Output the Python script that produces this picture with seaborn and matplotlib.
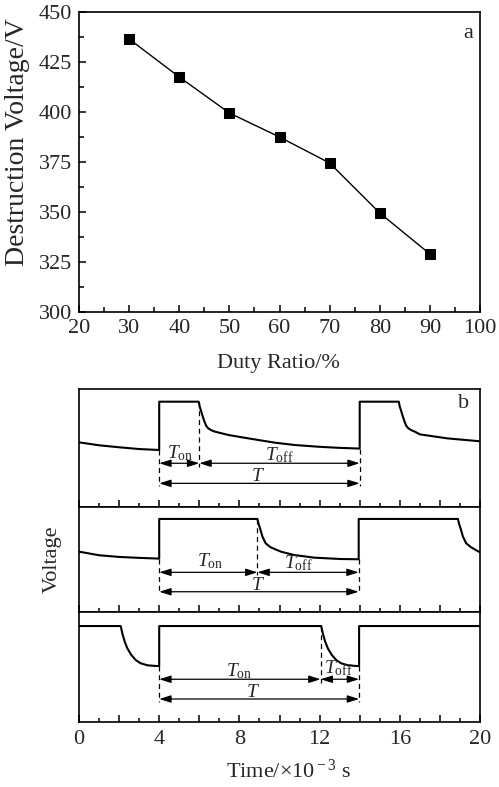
import numpy as np
import pandas as pd
import matplotlib
matplotlib.use("Agg")
import matplotlib.pyplot as plt
from matplotlib.ticker import MultipleLocator, FuncFormatter
import seaborn as sns

# panel a: destruction voltage vs duty ratio
duty = [30, 40, 50, 60, 70, 80, 90]
destruct_v = [436.5, 417.5, 399.5, 387.5, 374.5, 349.5, 329]

# panel b: schematic waveforms (voltage in % of each strip height)
wave1_t = [0, 1, 2, 3, 4, 4, 5.97, 6.02, 6.1, 6.19, 6.27, 6.35, 6.44, 6.6, 6.78,
           7.44, 8.44, 9.78, 10.78, 12, 13, 14, 14, 15.95, 16.0, 16.08, 16.17,
           16.25, 16.33, 16.42, 16.58, 16.75, 17.0, 18.36, 20]
wave1_v = [54.6, 52.1, 50.4, 48.9, 48.1, 89.2, 89.2, 84.9, 80.7, 75.6, 71.7, 68.5,
           66.6, 64.9, 63.7, 60.9, 58.0, 54.3, 52.3, 50.8, 49.9, 49.3, 89.2, 89.2,
           84.9, 80.7, 75.6, 71.7, 68.5, 66.6, 64.9, 63.7, 61.4, 58.0, 55.5]

wave2_t = [0, 1, 2, 3, 4, 4, 8.9, 8.95, 9.03, 9.15, 9.31, 9.56, 10.07, 10.73, 11.74,
           13.08, 13.95, 13.95, 18.9, 18.95, 19.03, 19.15, 19.31, 19.56, 20]
wave2_v = [57.2, 53.8, 52.2, 51.3, 50.6, 88.2, 88.2, 84.0, 79.3, 71.4, 65.1, 61.3,
           57.2, 54.0, 51.5, 50.2, 50.0, 88.2, 88.2, 84.0, 79.3, 71.4, 65.1, 61.3, 56.5]

wave3_t = [0, 2.08, 2.16, 2.28, 2.41, 2.61, 2.83, 3.08, 3.42, 3.83, 4.0, 4.0,
           12.08, 12.16, 12.28, 12.41, 12.61, 12.83, 13.08, 13.42, 13.83, 13.97,
           13.97, 20]
wave3_v = [87.2, 87.2, 80.6, 72.9, 66.9, 60.8, 56.2, 53.2, 51.4, 50.8, 50.8, 87.2,
           87.2, 80.6, 72.9, 66.9, 60.8, 56.2, 53.2, 51.4, 50.8, 50.8, 87.2, 87.2]

# period marks for each strip: start, end of T_on, end of period
t_start = [4, 4, 4]
t_on_end = [6, 8.9, 12.05]
t_end = [14, 13.95, 13.97]

sns.set_theme(style="ticks")
plt.rcParams['font.family'] = ['Liberation Serif', 'DejaVu Serif']
plt.rcParams['mathtext.fontset'] = 'custom'
plt.rcParams['mathtext.rm'] = 'Liberation Serif'
plt.rcParams['mathtext.it'] = 'Liberation Serif:italic'
plt.rcParams['axes.linewidth'] = 1.2
plt.rcParams['axes.edgecolor'] = 'black'

W, H = 499, 787
fig = plt.figure(figsize=(W / 100, H / 100), dpi=100)


def box(l, t, r, b):
    return [l / W, 1 - b / H, (r - l) / W, (b - t) / H]


# ---------- panel a ----------
ax = fig.add_axes(box(79, 12, 480, 312))
df_a = pd.DataFrame({'duty': duty, 'volt': destruct_v})
sns.lineplot(data=df_a, x='duty', y='volt', ax=ax, color='black', linewidth=1.0,
             marker='s', markersize=7, markeredgecolor='black', markerfacecolor='black')
ax.set_xlim(20, 100)
ax.set_ylim(300, 450)
ax.xaxis.set_major_locator(MultipleLocator(10))
ax.xaxis.set_minor_locator(MultipleLocator(5))
ax.yaxis.set_major_locator(MultipleLocator(25))
ax.yaxis.set_minor_locator(MultipleLocator(12.5))
ax.tick_params(which='both', direction='in', top=False, right=False, color='black',
               labelsize=16, pad=5, width=1.1)
ax.tick_params(which='major', length=5)
ax.tick_params(which='minor', length=3.3)
ax.set_xlabel('')
ax.set_ylabel('')
for s in ax.spines.values():
    s.set_visible(True)
ax.text(97.7, 439.3, 'a', fontsize=16, ha='center', va='center')
fig.text(18 / W, 1 - 142 / H, 'Destruction Voltage/V', rotation=90, fontsize=20,
         ha='center', va='center')
fig.text(278 / W, 1 - 363 / H, 'Duty Ratio/%', fontsize=16, ha='center', va='center')

# ---------- panel b ----------
strips = [(389, 506.5), (506.5, 612), (612, 721.7)]
waves = [(wave1_t, wave1_v), (wave2_t, wave2_v), (wave3_t, wave3_v)]
# y levels (in strip %) for arrows, dashed line ends and label baselines
arrow_y = [(36.8, 19.7), (37.6, 19.2), (38.7, 20.7)]
dash_low = [17.4, 17.0, 18.2]
dash_mid = [33.9, 35.0, 35.6]
lab_on = [(5.04, 41.0), (6.55, 42.9), (8.0, 41.7)]
lab_off = [(9.98, 39.0), (10.95, 41.4), (12.96, 44.1)]
lab_T = [(8.91, 21.6), (8.91, 20.4), (8.68, 22.4)]

arrow_kw = dict(arrowstyle='<|-|>,head_length=0.7,head_width=0.22', color='black',
                lw=0.9, shrinkA=0, shrinkB=0, mutation_scale=10)

for i, ((top, bot), (tt, vv)) in enumerate(zip(strips, waves)):
    axb = fig.add_axes(box(79, top, 480, bot))
    df_w = pd.DataFrame({'t': tt, 'v': vv})
    sns.lineplot(data=df_w, x='t', y='v', ax=axb, sort=False, estimator=None,
                 color='black', linewidth=1.5)
    axb.set_xlim(0, 20)
    axb.set_ylim(0, 100)
    axb.set_xlabel('')
    axb.set_ylabel('')
    axb.set_yticks([])
    axb.xaxis.set_major_locator(MultipleLocator(2))
    axb.xaxis.set_minor_locator(MultipleLocator(1))
    axb.xaxis.set_major_formatter(
        FuncFormatter(lambda v, p: f"{v:.0f}" if round(v) % 4 == 0 else ""))
    axb.tick_params(axis='x', which='both', direction='in', top=False, color='black',
                    labelsize=16, pad=6, width=1.1, labelbottom=(i == 2))
    axb.tick_params(axis='x', which='major', length=5)
    axb.tick_params(axis='x', which='minor', length=3)
    for s in axb.spines.values():
        s.set_visible(True)

    t0, t1, t2 = t_start[i], t_on_end[i], t_end[i]
    v_low_start = vv[tt.index(t0)]
    idx_end = [k for k in range(len(tt) - 1) if tt[k] == tt[k + 1] and tt[k] > 10][0]
    v_low_end = vv[idx_end]
    v_high = max(vv)
    dash = dict(color='black', lw=0.9, linestyle=(0, (4, 3)))
    axb.plot([t0, t0], [v_low_start, dash_low[i]], **dash)
    axb.plot([t1, t1], [v_high, dash_mid[i]], **dash)
    axb.plot([t2, t2], [v_low_end, dash_low[i]], **dash)

    ya, yt = arrow_y[i]
    axb.annotate('', xy=(t1, ya), xytext=(t0, ya), arrowprops=arrow_kw)
    axb.annotate('', xy=(t2, ya), xytext=(t1, ya), arrowprops=arrow_kw)
    axb.annotate('', xy=(t2, yt), xytext=(t0, yt), arrowprops=arrow_kw)
    axb.text(*lab_on[i], r'$T_{\rm on}$', fontsize=14, ha='center', va='baseline')
    axb.text(*lab_off[i], r'$T_{\rm off}$', fontsize=14, ha='center', va='baseline')
    axb.text(*lab_T[i], r'$T$', fontsize=14, ha='center', va='baseline')
    if i == 0:
        axb.text(19.2, 87.8, 'b', fontsize=16, ha='center', va='center')

fig.text(52 / W, 1 - 559 / H, 'Voltage', rotation=90, fontsize=16,
         ha='center', va='center')
fig.text(288 / W, 1 - 771 / H, r'Time/×10$^{\rm -3}$ s', fontsize=16,
         ha='center', va='center')

fig.savefig('out.png', dpi=100)
